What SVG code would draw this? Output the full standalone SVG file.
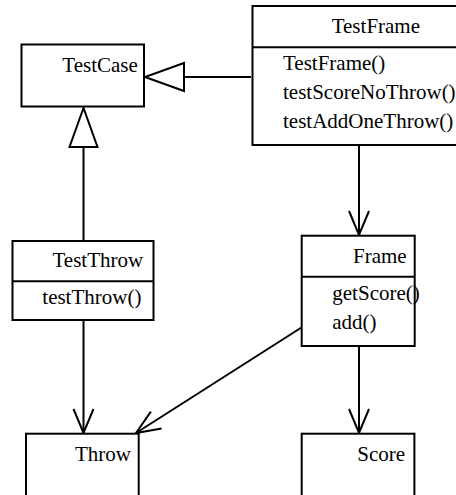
<svg xmlns="http://www.w3.org/2000/svg" width="456" height="495" viewBox="0 0 456 495">
  <style>
    .box { fill: #ffffff; stroke: #000000; stroke-width: 2; }
    .sep { stroke: #000000; stroke-width: 2; }
    .edge { fill: none; stroke: #000000; stroke-width: 2; }
    text { font-family: "Liberation Serif", "Times New Roman", serif; font-size: 21px; fill: #000000; }
  </style>
  <defs>
    <!-- open arrowhead for associations -->
    <marker id="open" markerUnits="userSpaceOnUse" viewBox="-27 -12 30 24" markerWidth="30" markerHeight="24" refX="0" refY="0" orient="auto">
      <path d="M -24 -10 L 0 0 L -24 10" fill="none" stroke="#000000" stroke-width="2"/>
    </marker>
    <!-- hollow triangle for generalization -->
    <marker id="inherit" markerUnits="userSpaceOnUse" viewBox="-42 -16 45 32" markerWidth="45" markerHeight="32" refX="0" refY="0" orient="auto">
      <path d="M 0 0 L -39 -14 L -39 14 Z" fill="#ffffff" stroke="#000000" stroke-width="2"/>
    </marker>
  </defs>

  <g id="connectors">
    <line class="edge" x1="251" y1="77" x2="145" y2="77" marker-end="url(#inherit)"/>
    <line class="edge" x1="83.5" y1="241" x2="83.5" y2="108" marker-end="url(#inherit)"/>
    <line class="edge" x1="359" y1="146" x2="359" y2="235" marker-end="url(#open)"/>
    <line class="edge" x1="83.5" y1="320" x2="83.5" y2="433" marker-end="url(#open)"/>
    <line class="edge" x1="301.5" y1="327.5" x2="136" y2="433" marker-end="url(#open)"/>
    <line class="edge" x1="359" y1="346" x2="359" y2="433" marker-end="url(#open)"/>
  </g>

  <g id="TestCase">
    <rect class="box" x="21.5" y="44.5" width="122.5" height="62"/>
    <text x="62.3" y="71.7">TestCase</text>
  </g>

  <g id="TestFrame">
    <rect class="box" x="252.5" y="6" width="210" height="139"/>
    <line class="sep" x1="252.5" y1="47.3" x2="462" y2="47.3"/>
    <text x="331.7" y="32.7">TestFrame</text>
    <text x="283" y="69.5">TestFrame()</text>
    <text x="283" y="98.5">testScoreNoThrow()</text>
    <text x="283" y="127.5">testAddOneThrow()</text>
  </g>

  <g id="TestThrow">
    <rect class="box" x="12.5" y="241" width="141" height="79"/>
    <line class="sep" x1="12.5" y1="281.3" x2="153.5" y2="281.3"/>
    <text x="52.5" y="267.3">TestThrow</text>
    <text x="42.3" y="304">testThrow()</text>
  </g>

  <g id="Frame">
    <rect class="box" x="301.7" y="235.7" width="113" height="110.3"/>
    <line class="sep" x1="301.7" y1="276.7" x2="414.7" y2="276.7"/>
    <text x="353" y="262.7">Frame</text>
    <text x="332.3" y="300">getScore()</text>
    <text x="332.3" y="329">add()</text>
  </g>

  <g id="Throw">
    <rect class="box" x="26" y="433.7" width="112.7" height="70"/>
    <text x="75" y="460.7">Throw</text>
  </g>

  <g id="Score">
    <rect class="box" x="301.7" y="433.7" width="112.7" height="70"/>
    <text x="357.3" y="460.7">Score</text>
  </g>
</svg>
